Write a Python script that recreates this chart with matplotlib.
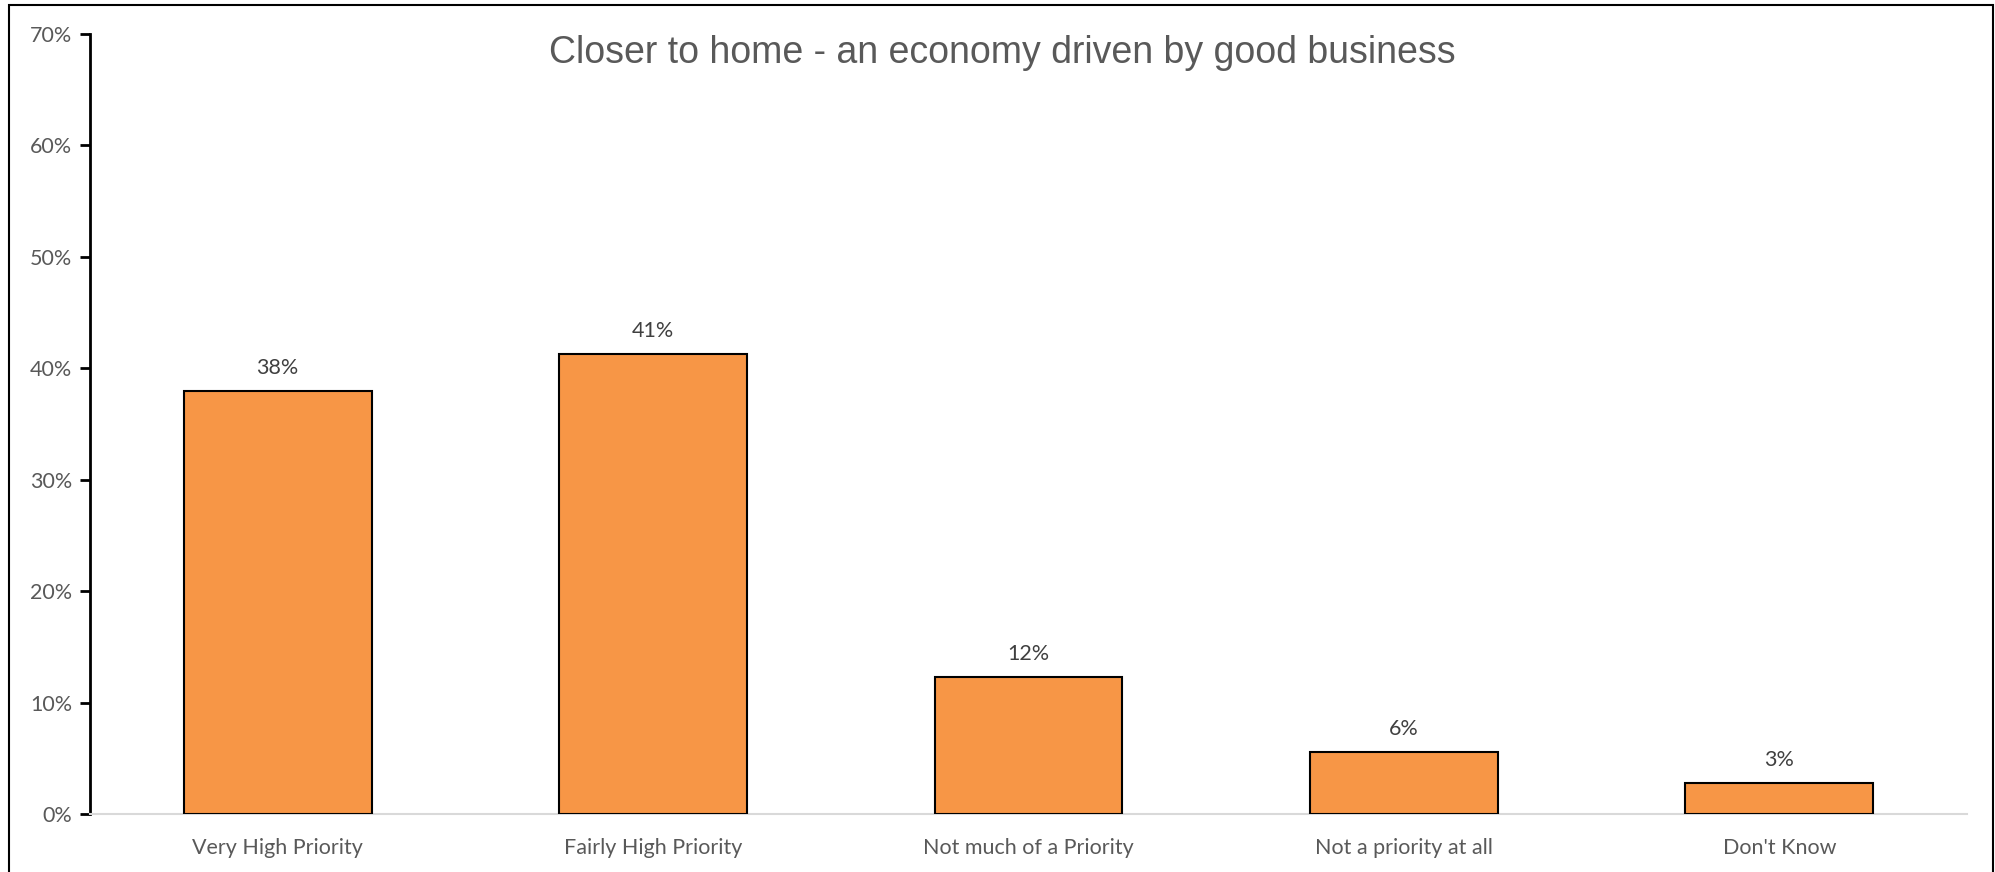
import matplotlib
matplotlib.use("Agg")
import matplotlib.pyplot as plt
from matplotlib.ticker import FuncFormatter, MultipleLocator
from matplotlib.patches import Rectangle

categories = ["Very High Priority", "Fairly High Priority", "Not much of a Priority",
              "Not a priority at all", "Don't Know"]
values = [38.0, 41.3, 12.3, 5.6, 2.8]
labels = ["38%", "41%", "12%", "6%", "3%"]
title = "Closer to home - an economy driven by good business"

W, H = 1995, 872
fig = plt.figure(figsize=(W / 100, H / 100), dpi=100)
ax = fig.add_axes([90 / W, 1 - 814 / H, (1967 - 90) / W, (814 - 34) / H])

x = list(range(len(categories)))
bars = ax.bar(x, values, width=0.5, color="#F79646", edgecolor="black", linewidth=1.5, zorder=3)

for xi, v, lab in zip(x, values, labels):
    ax.annotate(lab, (xi, v), xytext=(0, 9), textcoords="offset points",
                ha="center", va="bottom", fontsize=15.5, color="#404040", family="Lato")

ax.set_xlim(-0.5, len(categories) - 0.5)
ax.set_ylim(0, 70)
ax.yaxis.set_major_locator(MultipleLocator(10))
ax.yaxis.set_major_formatter(FuncFormatter(lambda v, p: f"{v:.0f}%"))
ax.set_xticks(x)
ax.set_xticklabels(categories)

for s in ["top", "right"]:
    ax.spines[s].set_visible(False)
ax.spines["left"].set_color("black")
ax.spines["left"].set_linewidth(2)
ax.spines["bottom"].set_color("#D9D9D9")
ax.spines["bottom"].set_linewidth(1.5)

ax.tick_params(axis="y", direction="out", length=7, width=2, color="black",
               labelsize=15.5, labelcolor="#595959", pad=6)
ax.tick_params(axis="x", length=0, labelsize=15.5, labelcolor="#595959", pad=17)
for t in ax.get_xticklabels() + ax.get_yticklabels():
    t.set_family("Lato")

fig.text(1002 / W, 1 - 53 / H, title, ha="center", va="center", fontsize=27,
         color="#595959", family="Liberation Sans")

fig.patches.append(Rectangle((9 / W, -0.05), (1993 - 9) / W, 1.05 - 5 / H,
                             transform=fig.transFigure, fill=False,
                             edgecolor="black", linewidth=1.5))

fig.savefig("out.png", dpi=100)
